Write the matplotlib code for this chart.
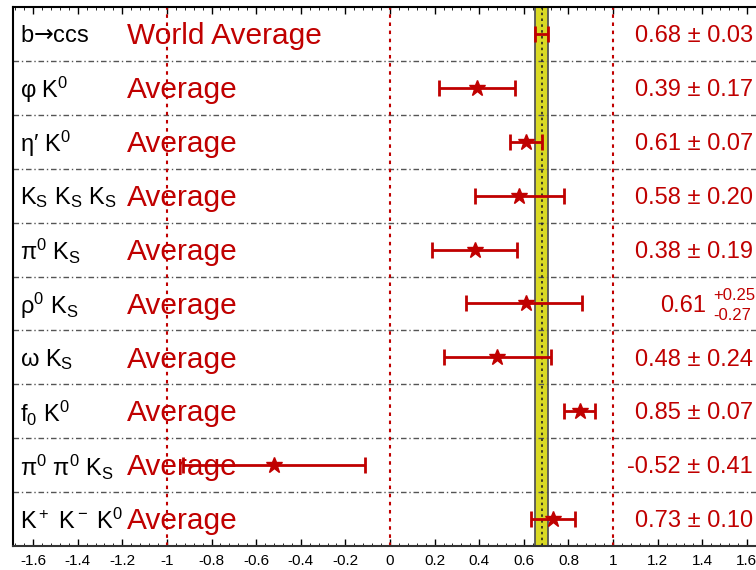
import matplotlib
matplotlib.use("Agg")
import matplotlib.pyplot as plt
import numpy as np

plt.rcParams['font.family'] = ['Liberation Sans', 'DejaVu Sans']
plt.rcParams['mathtext.fontset'] = 'custom'
plt.rcParams['mathtext.rm'] = 'Liberation Sans'
plt.rcParams['mathtext.it'] = 'Liberation Sans'
plt.rcParams['mathtext.sf'] = 'DejaVu Sans'

modes = [r'$\mathregular{b}\mathsf{→}\mathregular{ccs}$',
         r'$\mathregular{φ\ K^0}$',
         r'$\mathregular{η′\ K^0}$',
         r'$\mathregular{K_S\ K_S\ K_S}$',
         r'$\mathregular{π^0\ K_S}$',
         r'$\mathregular{ρ^0\ K_S}$',
         r'$\mathregular{ω\ K_S}$',
         r'$\mathregular{f_0\ K^0}$',
         r'$\mathregular{π^0\ π^0\ K_S}$',
         r'$\mathregular{K^+\ K^-\ K^0}$']
avg_labels = ['World Average'] + ['Average'] * 9
values = [0.68, 0.39, 0.61, 0.58, 0.38, 0.61, 0.48, 0.85, -0.52, 0.73]
err_lo = [0.03, 0.17, 0.07, 0.20, 0.19, 0.27, 0.24, 0.07, 0.41, 0.10]
err_hi = [0.03, 0.17, 0.07, 0.20, 0.19, 0.25, 0.24, 0.07, 0.41, 0.10]
world_avg = 0.68
world_err = 0.03
ticks = [-1.6, -1.4, -1.2, -1, -0.8, -0.6, -0.4, -0.2, 0, 0.2, 0.4, 0.6, 0.8, 1, 1.2, 1.4, 1.6]

RED = '#c00000'
n = len(values)

fig = plt.figure(figsize=(7.56, 5.70), dpi=100)
ax = fig.add_axes([13/756, 24/570, 754/756, 539/570])
ax.set_xlim(-1.69, 1.69)
ax.set_ylim(n, 0)

# world average band
ax.axvspan(world_avg - world_err, world_avg + world_err, color='#d9d924', zorder=1, lw=0)
for xe in (world_avg - world_err, world_avg + world_err):
    ax.axvline(xe, color='#555555', lw=1.3, zorder=2)
ax.axvline(world_avg, color='#222222', lw=1.2, ls=(0, (1.5, 2)), zorder=2)

# red reference lines
for xr in (-1, 0, 1):
    ax.axvline(xr, color=RED, lw=1.5, ls=(0, (1.7, 2.2)), zorder=2)

# row separators
for i in range(1, n):
    ax.axhline(i, color='#555555', lw=1.0, ls=(0, (4, 2, 1, 2)), zorder=1)

y = np.arange(n) + 0.5
# first row: no marker
ax.errorbar(values[0], y[0], xerr=[[err_lo[0]], [err_hi[0]]], fmt='none',
            ecolor=RED, elinewidth=2, capsize=6, capthick=2, zorder=5)
ax.errorbar(values[1:], y[1:], xerr=[err_lo[1:], err_hi[1:]], fmt='*',
            color=RED, ms=12, ecolor=RED, elinewidth=2, capsize=6, capthick=2, zorder=5)

for i in range(n):
    yt = y[i] + 0.04
    ax.text(-1.66, yt, modes[i], fontsize=17, color='black', va='center', ha='left', zorder=6)
    ax.text(-1.18, yt, avg_labels[i], fontsize=21.5, color=RED, va='center', ha='left', zorder=6)
    if err_lo[i] == err_hi[i]:
        s = f'{values[i]:.2f} ± {err_hi[i]:.2f}'
        ax.text(1.628, yt, s, fontsize=17, color=RED, va='center', ha='right', zorder=6)
    else:
        ax.text(1.417, yt, f'{values[i]:.2f}', fontsize=17, color=RED, va='center', ha='right', zorder=6)
        ax.text(1.447, y[i] - 0.15, f'+{err_hi[i]:.2f}', fontsize=12, color=RED, va='center', ha='left', zorder=6)
        ax.text(1.447, y[i] + 0.22, f'-{err_lo[i]:.2f}', fontsize=12, color=RED, va='center', ha='left', zorder=6)

ax.set_xticks(ticks)
ax.set_xticklabels([f'{t:g}' for t in ticks], fontsize=11)
ax.set_yticks([])
ax.tick_params(axis='x', direction='in', length=5, width=1, top=True, pad=6, colors='black')
ax.tick_params(axis='x', which='minor', direction='in', length=2, top=True)
ax.set_xticks(np.arange(-1.68, 1.69, 0.04), minor=True)
for sp in ax.spines.values():
    sp.set_linewidth(1.5)
    sp.set_color('black')
ax.spines['bottom'].set_color('#333333')

fig.savefig('out.png', dpi=100)
